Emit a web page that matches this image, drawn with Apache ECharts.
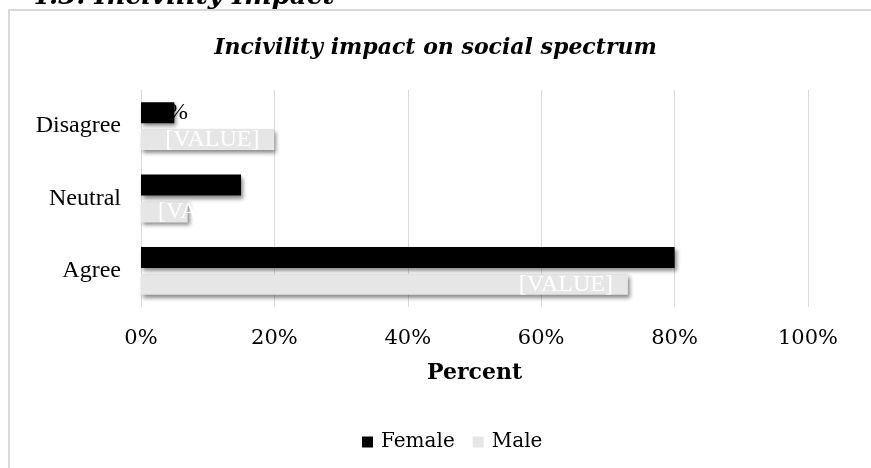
<!DOCTYPE html>
<html>
<head>
<meta charset="utf-8">
<script src="https://cdn.jsdelivr.net/npm/echarts@6/dist/echarts.min.js"></script>
<style>
  html, body { margin: 0; padding: 0; background: #fff; }
  #chart { width: 871px; height: 468px; }
</style>
</head>
<body>
<div id="chart"></div>
<script>
// Survey responses: share of respondents (percent) by answer and gender
const categories = ['Disagree', 'Neutral', 'Agree'];
const femaleValues = [5, 15, 80];
const maleValues = [20, 7, 73];
const seriesNames = ['Female', 'Male'];

const chart = echarts.init(document.getElementById('chart'), null, { renderer: 'canvas' });

const barShadow = {
  shadowBlur: 4,
  shadowOffsetX: 2,
  shadowOffsetY: 3,
  shadowColor: 'rgba(0,0,0,0.45)'
};

// Short male bars keep their label anchored near the bar start
const maleData = maleValues.map(v => v < 10
  ? { value: v, label: { position: 'insideLeft', distance: 17 } }
  : v);

chart.setOption({
  animation: false,
  backgroundColor: '#ffffff',
  title: {
    text: 'Incivility impact on social spectrum',
    left: 'center',
    top: 32,
    textStyle: {
      fontFamily: 'DejaVu Serif',
      fontStyle: 'italic',
      fontWeight: 'bold',
      fontSize: 22,
      color: '#000'
    }
  },
  graphic: [
    {
      type: 'rect',
      shape: { x: 9, y: 10, width: 880, height: 480 },
      style: { fill: 'none', stroke: '#d9d9d9', lineWidth: 2 },
      silent: true,
      z: -10
    },
    {
      type: 'text',
      left: 31,
      top: -16,
      style: {
        text: '4.3. Incivility Impact',
        fontFamily: 'DejaVu Serif',
        fontStyle: 'italic',
        fontWeight: 'bold',
        fontSize: 26,
        fill: '#000'
      },
      silent: true
    }
  ],
  legend: {
    data: seriesNames,
    left: 357,
    top: 427,
    icon: 'rect',
    itemWidth: 11,
    itemHeight: 11,
    itemGap: 18,
    textStyle: {
      fontFamily: 'DejaVu Serif',
      fontSize: 20,
      color: '#000',
      padding: [0, 0, 0, 3]
    }
  },
  grid: {
    left: 141,
    right: 63,
    top: 90,
    bottom: 161,
    containLabel: false
  },
  xAxis: {
    type: 'value',
    min: 0,
    max: 100,
    interval: 20,
    name: 'Percent',
    nameLocation: 'middle',
    nameGap: 55,
    nameTextStyle: {
      fontFamily: 'DejaVu Serif',
      fontWeight: 'bold',
      fontSize: 22,
      color: '#000'
    },
    axisLine: { show: false },
    axisTick: { show: false },
    axisLabel: {
      formatter: '{value}%',
      margin: 21,
      fontFamily: 'DejaVu Serif',
      fontSize: 21,
      color: '#000'
    },
    splitLine: { show: true, lineStyle: { color: '#d9d9d9', width: 1 } }
  },
  yAxis: {
    type: 'category',
    data: categories,
    inverse: true,
    axisLine: { show: true, lineStyle: { color: '#d9d9d9', width: 1 } },
    axisTick: { show: false },
    axisLabel: {
      margin: 20,
      fontFamily: 'Liberation Serif',
      fontSize: 24,
      color: '#000'
    }
  },
  series: [
    {
      name: seriesNames[0],
      type: 'bar',
      data: femaleValues,
      barWidth: 21,
      barGap: '28%',
      itemStyle: Object.assign({ color: '#000000' }, barShadow),
      label: {
        show: true,
        position: 'insideLeft',
        distance: 15,
        formatter: '{c}%',
        fontFamily: 'Liberation Serif',
        fontSize: 24,
        color: '#000',
        textBorderWidth: 0
      },
      z: 3
    },
    {
      name: seriesNames[1],
      type: 'bar',
      data: maleData,
      barWidth: 21,
      barGap: '28%',
      itemStyle: Object.assign({ color: '#e6e6e6' }, barShadow),
      label: {
        show: true,
        position: 'insideRight',
        distance: 15,
        formatter: '[VALUE]',
        fontFamily: 'Liberation Serif',
        fontSize: 24,
        color: '#ffffff',
        textBorderWidth: 0
      },
      z: 2
    }
  ]
});
</script>
</body>
</html>
